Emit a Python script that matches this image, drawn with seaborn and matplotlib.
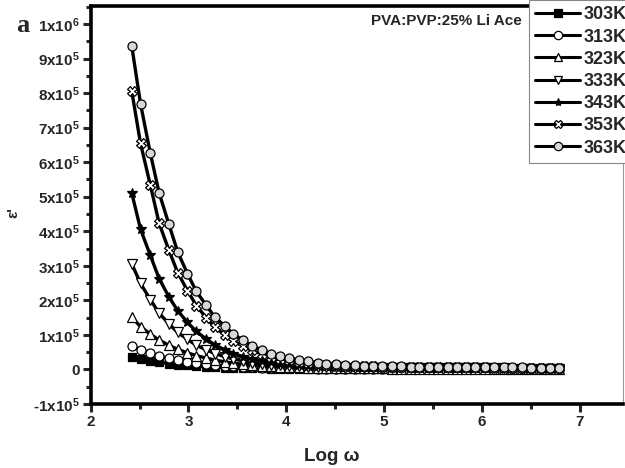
import matplotlib
matplotlib.use("Agg")
import matplotlib.pyplot as plt
import seaborn as sns
import numpy as np
import pandas as pd
from matplotlib.ticker import FixedLocator, MultipleLocator

# ---- data (y in units of 1e5) ----
log_w = [2.42, 2.51, 2.61, 2.70, 2.80, 2.89, 2.99, 3.08, 3.18, 3.27, 3.37, 3.46, 3.56, 3.65, 3.75,
         3.84, 3.94, 4.03, 4.13, 4.22, 4.32, 4.41, 4.51, 4.60, 4.70, 4.79, 4.89, 4.98, 5.08, 5.17,
         5.27, 5.36, 5.46, 5.55, 5.65, 5.74, 5.84, 5.93, 6.03, 6.12, 6.22, 6.31, 6.41, 6.50, 6.60,
         6.69, 6.79]

eps_303 = [0.36, 0.30, 0.25, 0.21, 0.17, 0.14, 0.12, 0.10, 0.08, 0.065, 0.055, 0.045, 0.040, 0.035, 0.030,
           0.026, 0.023, 0.020, 0.018, 0.016, 0.015, 0.014, 0.013, 0.012, 0.011, 0.010, 0.010, 0.009, 0.009, 0.008,
           0.008, 0.008, 0.007, 0.007, 0.007, 0.006, 0.006, 0.006, 0.006, 0.005, 0.005, 0.005, 0.005, 0.005, 0.004,
           0.004, 0.004]
eps_313 = [0.68, 0.57, 0.47, 0.39, 0.32, 0.27, 0.22, 0.18, 0.15, 0.12, 0.10, 0.085, 0.070, 0.060, 0.050,
           0.045, 0.040, 0.035, 0.031, 0.028, 0.025, 0.023, 0.021, 0.019, 0.018, 0.017, 0.016, 0.015, 0.014, 0.013,
           0.013, 0.012, 0.012, 0.011, 0.011, 0.010, 0.010, 0.010, 0.009, 0.009, 0.009, 0.008, 0.008, 0.008, 0.008,
           0.007, 0.007]
eps_323 = [1.51, 1.24, 1.02, 0.85, 0.70, 0.58, 0.48, 0.40, 0.33, 0.27, 0.22, 0.18, 0.15, 0.13, 0.11,
           0.09, 0.08, 0.07, 0.06, 0.055, 0.050, 0.045, 0.040, 0.037, 0.034, 0.031, 0.029, 0.027, 0.025, 0.024,
           0.023, 0.022, 0.021, 0.020, 0.019, 0.018, 0.018, 0.017, 0.017, 0.016, 0.016, 0.015, 0.015, 0.015, 0.014,
           0.014, 0.014]
eps_333 = [3.06, 2.49, 2.02, 1.63, 1.32, 1.07, 0.87, 0.70, 0.57, 0.46, 0.37, 0.30, 0.25, 0.20, 0.17,
           0.14, 0.12, 0.10, 0.09, 0.08, 0.070, 0.062, 0.056, 0.051, 0.047, 0.044, 0.041, 0.039, 0.037, 0.035,
           0.034, 0.033, 0.032, 0.031, 0.030, 0.029, 0.029, 0.028, 0.028, 0.027, 0.027, 0.026, 0.026, 0.026, 0.025,
           0.025, 0.025]
eps_343 = [5.11, 4.06, 3.30, 2.63, 2.10, 1.70, 1.36, 1.10, 0.88, 0.71, 0.57, 0.46, 0.37, 0.30, 0.25,
           0.21, 0.17, 0.15, 0.13, 0.11, 0.10, 0.09, 0.082, 0.076, 0.071, 0.067, 0.064, 0.061, 0.059, 0.057,
           0.055, 0.054, 0.053, 0.052, 0.051, 0.050, 0.049, 0.049, 0.048, 0.048, 0.047, 0.047, 0.047, 0.046, 0.046,
           0.046, 0.045]
eps_353 = [8.06, 6.54, 5.34, 4.23, 3.45, 2.80, 2.28, 1.85, 1.50, 1.22, 1.00, 0.82, 0.67, 0.55, 0.45,
           0.37, 0.31, 0.26, 0.22, 0.19, 0.16, 0.14, 0.12, 0.11, 0.10, 0.09, 0.085, 0.080, 0.076, 0.072,
           0.069, 0.066, 0.064, 0.062, 0.060, 0.059, 0.058, 0.057, 0.056, 0.055, 0.054, 0.054, 0.053, 0.053, 0.052,
           0.052, 0.051]
eps_363 = [9.37, 7.69, 6.26, 5.11, 4.20, 3.40, 2.77, 2.26, 1.86, 1.51, 1.26, 1.02, 0.84, 0.68, 0.56,
           0.46, 0.38, 0.32, 0.27, 0.23, 0.20, 0.17, 0.15, 0.13, 0.12, 0.11, 0.10, 0.095, 0.090, 0.085,
           0.080, 0.078, 0.075, 0.072, 0.070, 0.068, 0.066, 0.064, 0.062, 0.060, 0.058, 0.057, 0.056, 0.055, 0.054,
           0.053, 0.052]

series_names = ["303K", "313K", "323K", "333K", "343K", "353K", "363K"]
series_vals = [eps_303, eps_313, eps_323, eps_333, eps_343, eps_353, eps_363]

x_ticks = [2, 3, 4, 5, 6, 7]
y_ticks = [-1, 0, 1, 2, 3, 4, 5, 6, 7, 8, 9, 10]
y_tick_labels = [r"-1x10$^{5}$", "0", r"1x10$^{5}$", r"2x10$^{5}$", r"3x10$^{5}$", r"4x10$^{5}$",
                 r"5x10$^{5}$", r"6x10$^{5}$", r"7x10$^{5}$", r"8x10$^{5}$", r"9x10$^{5}$", r"1x10$^{6}$"]

rows = []
for name, vals in zip(series_names, series_vals):
    for xv, yv in zip(log_w, vals):
        rows.append({"logw": xv, "eps": yv, "T": name})
df = pd.DataFrame(rows)

sns.set_style("ticks")
plt.rcParams["font.family"] = ["Liberation Sans", "DejaVu Sans"]
plt.rcParams["font.weight"] = "bold"
plt.rcParams["mathtext.fontset"] = "custom"
plt.rcParams["mathtext.rm"] = "Liberation Sans:bold"
plt.rcParams["mathtext.bf"] = "Liberation Sans:bold"
plt.rcParams["mathtext.default"] = "rm"

fig = plt.figure(figsize=(6.25, 4.68), dpi=100)
ax = fig.add_axes([0.145, 0.1368, 0.8517, 0.8504])

styles = {
    "303K": dict(marker="s", mfc="black", mec="black", ms=5.5),
    "313K": dict(marker="o", mfc="white", mec="black", ms=6.5),
    "323K": dict(marker="^", mfc="white", mec="black", ms=6.5),
    "333K": dict(marker="v", mfc="white", mec="black", ms=6.5),
    "343K": dict(marker="*", mfc="black", mec="black", ms=7.5),
    "353K": dict(marker="X", mfc="white", mec="black", ms=6.5),
    "363K": dict(marker="o", mfc="#d8d8d8", mec="black", ms=6.5),
}

for name in series_names:
    st = styles[name]
    sub = df[df["T"] == name]
    sns.lineplot(data=sub, x="logw", y="eps", ax=ax, color="black", linewidth=2.4,
                 marker=st["marker"], markersize=st["ms"], markerfacecolor=st["mfc"],
                 markeredgecolor=st["mec"], markeredgewidth=0.9, label=name, legend=False)

ax.set_xlim(2, 7.44)
ax.set_ylim(-1, 10.52)
ax.xaxis.set_major_locator(FixedLocator(x_ticks))
ax.xaxis.set_minor_locator(MultipleLocator(0.5))
ax.yaxis.set_major_locator(FixedLocator(y_ticks))
ax.yaxis.set_minor_locator(MultipleLocator(0.5))
ax.set_xticklabels([str(t) for t in x_ticks], fontsize=11, fontweight="bold")
ax.set_yticklabels(y_tick_labels, fontsize=11, fontweight="bold")
ax.tick_params(axis="both", which="major", direction="out", length=6, width=2.2, pad=2)
ax.tick_params(axis="both", which="minor", direction="out", length=3.5, width=2.2)
ax.set_xlabel("")
ax.set_ylabel("")

for side in ["left", "bottom", "top"]:
    ax.spines[side].set_linewidth(2.6)
    ax.spines[side].set_color("black")
ax.spines["right"].set_linewidth(0.8)
ax.spines["right"].set_color("#999999")

fig.text(0.53, 0.024, "Log ω", ha="center", va="center", fontsize=13.5, fontweight="bold")
fig.text(0.022, 0.545, "ε'", ha="center", va="center", rotation=90, fontsize=11, fontweight="bold")
fig.text(0.037, 0.945, "a", ha="center", va="center", fontsize=19, fontweight="bold",
         family=["Liberation Serif", "DejaVu Serif"])
fig.text(0.835, 0.955, "PVA:PVP:25% Li Ace", ha="right", va="center", fontsize=11, fontweight="bold")

handles, labels = ax.get_legend_handles_labels()
leg = fig.legend(handles, labels, loc="upper left", bbox_to_anchor=(529 / 625, 1.0),
                 frameon=True, fancybox=False, edgecolor="#888888", framealpha=1,
                 prop={"weight": "bold", "size": 13}, handlelength=2.5, handletextpad=0.15,
                 labelspacing=0.29, borderpad=0.35, borderaxespad=0.0)
leg.get_frame().set_linewidth(0.8)
for h in leg.legend_handles:
    h.set_markersize(6)
    h.set_linewidth(2.2)

fig.savefig("out.png", dpi=100)
